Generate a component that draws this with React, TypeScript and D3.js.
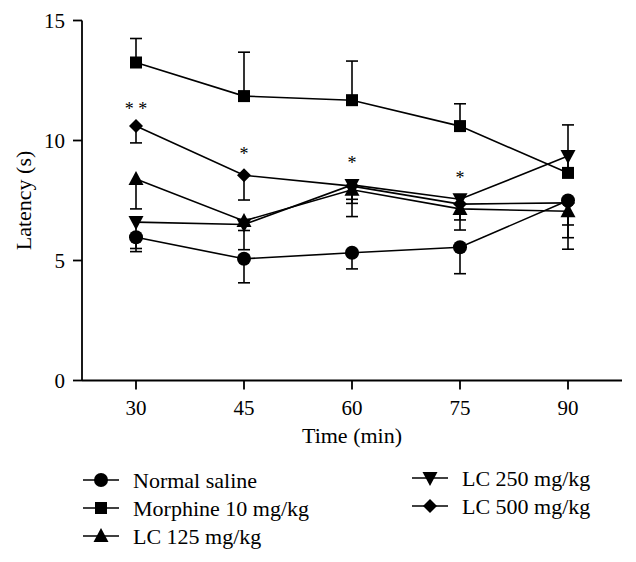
import React from "react";
import * as d3 from "d3";

const times = [30, 45, 60, 75, 90];
const salineMean = [5.97, 5.07, 5.32, 5.55, 7.5];
const salineErr = [0.6, 1.0, 0.67, 1.1, 1.55];
const morphineMean = [13.25, 11.85, 11.68, 10.6, 8.65];
const morphineErr = [1.0, 1.83, 1.63, 0.93, 2.0];
const lc125Mean = [8.4, 6.65, 7.95, 7.15, 7.05];
const lc125Err = [1.25, 0.4, 1.12, 0.88, 1.58];
const lc250Mean = [6.6, 6.5, 8.15, 7.55, 9.35];
const lc250Err = [1.1, 1.05, 0.6, 0.86, 0.5];
const lc500Mean = [10.6, 8.55, 8.1, 7.35, 7.4];
const lc500Err = [0.7, 1.03, 0.72, 0.4, 0.92];

const starTimes = [30, 45, 60, 75];
const starLabels = ["* *", "*", "*", "*"];
const starValues = [11.3, 9.45, 9.05, 8.45];

const yTicks = [0, 5, 10, 15];
const xTicks = [30, 45, 60, 75, 90];

type Shape = "circle" | "square" | "triangle" | "down" | "diamond";
interface Series {
  name: string;
  mean: number[];
  err: number[];
  dir: 1 | -1;
  shape: Shape;
}

const series: Series[] = [
  { name: "Normal saline", mean: salineMean, err: salineErr, dir: -1, shape: "circle" },
  { name: "Morphine 10 mg/kg", mean: morphineMean, err: morphineErr, dir: 1, shape: "square" },
  { name: "LC 125 mg/kg", mean: lc125Mean, err: lc125Err, dir: -1, shape: "triangle" },
  { name: "LC 250 mg/kg", mean: lc250Mean, err: lc250Err, dir: -1, shape: "down" },
  { name: "LC 500 mg/kg", mean: lc500Mean, err: lc500Err, dir: -1, shape: "diamond" },
];

const ts = { fontFamily: '"Liberation Serif", monospace' };

function Marker({ shape, x, y }: { shape: Shape; x: number; y: number }) {
  switch (shape) {
    case "circle":
      return <circle cx={x} cy={y} r={7} fill="#000" />;
    case "square":
      return <rect x={x - 6} y={y - 6} width={12} height={12} fill="#000" />;
    case "triangle":
      return <path d={`M${x},${y - 8}L${x + 7.5},${y + 6}L${x - 7.5},${y + 6}Z`} fill="#000" />;
    case "down":
      return <path d={`M${x},${y + 8}L${x + 7.5},${y - 6}L${x - 7.5},${y - 6}Z`} fill="#000" />;
    case "diamond":
      return <path d={`M${x},${y - 7}L${x + 7},${y}L${x},${y + 7}L${x - 7},${y}Z`} fill="#000" />;
  }
}

export default function App() {
  const width = 636;
  const height = 562;
  const x = d3.scaleLinear().domain([22.5, 97.5]).range([82, 622]);
  const y = d3.scaleLinear().domain([0, 15]).range([380.5, 20.5]);
  const line = d3
    .line<number>()
    .x((_, i) => x(times[i]))
    .y((d) => y(d));

  const legendPos = [
    { lx: 83, ly: 480 },
    { lx: 83, ly: 508 },
    { lx: 83, ly: 536 },
    { lx: 412, ly: 478 },
    { lx: 412, ly: 506 },
  ];

  return (
    <svg width={width} height={height} style={{ position: "absolute", left: 0, top: 0, background: "#fff" }}>
      <rect width={width} height={height} fill="#fff" />
      {series.map((s) => (
        <g key={s.name + "err"} stroke="#000" strokeWidth={1.6}>
          {s.mean.map((m, i) => {
            const xe = x(times[i]);
            const ye = y(m + s.dir * s.err[i]);
            return (
              <g key={i}>
                <line x1={xe} x2={xe} y1={y(m)} y2={ye} />
                <line x1={xe - 6} x2={xe + 6} y1={ye} y2={ye} />
              </g>
            );
          })}
        </g>
      ))}
      {series.map((s) => (
        <path key={s.name + "line"} d={line(s.mean) || ""} fill="none" stroke="#000" strokeWidth={1.6} />
      ))}
      {series.map((s) => (
        <g key={s.name + "mk"}>
          {s.mean.map((m, i) => (
            <Marker key={i} shape={s.shape} x={x(times[i])} y={y(m)} />
          ))}
        </g>
      ))}
      {starTimes.map((t, i) => (
        <text
          key={"star" + i}
          x={x(t)}
          y={y(starValues[i])}
          textAnchor="middle"
          dominantBaseline="central"
          fontSize={18}
          fill="#000"
          style={ts}
        >
          {starLabels[i]}
        </text>
      ))}
      <g stroke="#000" strokeWidth={1.8} fill="none">
        <line x1={82} x2={82} y1={y(15)} y2={y(0)} />
        <line x1={82} x2={622} y1={y(0)} y2={y(0)} />
        {yTicks.map((t) => (
          <line key={"yt" + t} x1={73} x2={82} y1={y(t)} y2={y(t)} />
        ))}
        {xTicks.map((t) => (
          <line key={"xt" + t} x1={x(t)} x2={x(t)} y1={y(0)} y2={y(0) + 9} />
        ))}
      </g>
      {yTicks.map((t) => (
        <text key={"yl" + t} x={65} y={y(t)} textAnchor="end" dominantBaseline="central" fontSize={21} fill="#000" style={ts}>
          {t}
        </text>
      ))}
      {xTicks.map((t) => (
        <text key={"xl" + t} x={x(t)} y={415} textAnchor="middle" fontSize={21} fill="#000" style={ts}>
          {t}
        </text>
      ))}
      <text x={x(60)} y={443} textAnchor="middle" fontSize={22} fill="#000" style={ts}>
        Time (min)
      </text>
      <text
        transform={`translate(31, ${(y(0) + y(15)) / 2}) rotate(-90)`}
        textAnchor="middle"
        fontSize={22}
        fill="#000"
        style={ts}
      >
        Latency (s)
      </text>
      {series.map((s, i) => {
        const { lx, ly } = legendPos[i];
        return (
          <g key={s.name + "lg"}>
            <line x1={lx} x2={lx + 36} y1={ly} y2={ly} stroke="#000" strokeWidth={1.6} />
            <Marker shape={s.shape} x={lx + 18} y={ly} />
            <text x={lx + 50} y={ly} dominantBaseline="central" fontSize={22} fill="#000" style={ts}>
              {s.name}
            </text>
          </g>
        );
      })}
    </svg>
  );
}
